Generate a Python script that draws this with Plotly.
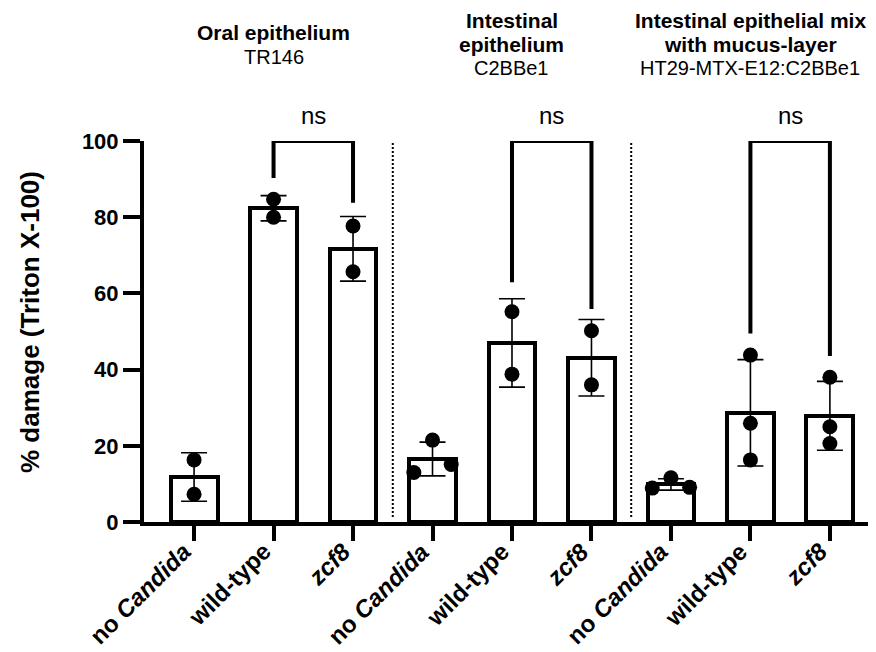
import numpy as np
import plotly.graph_objects as go

# ---------------- data ----------------
categories = ["no <i>Candida</i>", "wild-type", "<i>zcf8</i>",
              "no <i>Candida</i>", "wild-type", "<i>zcf8</i>",
              "no <i>Candida</i>", "wild-type", "<i>zcf8</i>"]

oral_points = [[16.3, 7.3], [84.7, 80.0], [77.7, 65.7]]
intestinal_points = [[21.5, 13.0, 15.1], [55.2, 38.8], [50.2, 36.0]]
mix_points = [[11.6, 8.9, 9.1], [43.8, 25.9, 16.3], [38.0, 25.0, 20.6]]

group_titles_bold = [["Oral epithelium"],
                     ["Intestinal", "epithelium"],
                     ["Intestinal epithelial mix", "with mucus-layer"]]
group_cells = ["TR146", "C2BBe1", "HT29-MTX-E12:C2BBe1"]

bracket_label = "ns"
bracket_top = 100
bracket_left_end = [90.3, 62.9, 49.5]
bracket_right_end = [83.8, 55.9, 43.6]

y_ticks = [0, 20, 40, 60, 80, 100]
y_title = "% damage (Triton X-100)"

# ---------------- derived ----------------
all_points = oral_points + intestinal_points + mix_points
means = [float(np.mean(p)) for p in all_points]
sds = [float(np.std(p, ddof=1)) for p in all_points]
xs = list(range(len(all_points)))

FONT = "Arial, Liberation Sans, sans-serif"
OFF = 8  # page body margin
W, H = 876 - OFF, 652 - OFF
ML, MR, MT, MB = 144 - OFF, 0, 141 - OFF, 130
X0, X1 = -0.63, 8.58
plot_h = H - MT - MB
plot_w = W - ML - MR


def spread(values, thresh=3.5, d=0.235):
    order = np.argsort(values)
    offs = [0.0] * len(values)
    clusters, cur = [], [order[0]]
    for a, b in zip(order[:-1], order[1:]):
        if values[b] - values[a] < thresh:
            cur.append(b)
        else:
            clusters.append(cur)
            cur = [b]
    clusters.append(cur)
    pattern = {1: [0.0], 2: [-d, d], 3: [-d, d, 0.0]}
    for c in clusters:
        for idx, o in zip(c, pattern.get(len(c), [0.0] * len(c))):
            offs[idx] = o
    return offs


def paper_y(ref_px):
    return (H - MB - (ref_px - OFF)) / plot_h


def paper_x(ref_px):
    return ((ref_px - OFF) - ML) / plot_w


fig = go.Figure()

fig.add_trace(go.Bar(
    x=xs, y=means, width=0.59,
    marker=dict(color="white", line=dict(color="black", width=4)),
    error_y=dict(type="data", array=sds, visible=True, color="black",
                 thickness=1.6, width=13),
    showlegend=False, hoverinfo="skip"))

px_, py_ = [], []
for i, vals in enumerate(all_points):
    offs = spread(vals)
    for v, o in zip(vals, offs):
        px_.append(i + o)
        py_.append(v)
fig.add_trace(go.Scatter(x=px_, y=py_, mode="markers",
                         marker=dict(color="black", size=15),
                         showlegend=False, hoverinfo="skip", cliponaxis=False))

# separators
for xsep in [2.5, 5.5]:
    fig.add_shape(type="line", x0=xsep, x1=xsep, y0=1.3, y1=100,
                  xref="x", yref="y",
                  line=dict(color="black", width=2, dash="2px,2px"))

# brackets
for g in range(3):
    a, b = 3 * g + 1, 3 * g + 2
    fig.add_shape(type="path",
                  path=f"M {a},{bracket_left_end[g]} L {a},{bracket_top} L {b},{bracket_top} L {b},{bracket_right_end[g]}",
                  xref="x", yref="y",
                  line=dict(color="black", width=4))
    fig.add_annotation(x=(a + b) / 2, y=bracket_top, xref="x", yref="y",
                       text=bracket_label, showarrow=False, yanchor="bottom",
                       yshift=10, font=dict(size=24, color="black", family=FONT))

# group titles
pitch = 24
center_px = 44.5
for g in range(3):
    lines = [(t, True) for t in group_titles_bold[g]] + [(group_cells[g], False)]
    n = len(lines)
    for k, (ln, bold) in enumerate(lines):
        ypx = center_px + (k - (n - 1) / 2) * pitch
        fig.add_annotation(x=3 * g + 1, xref="x",
                           y=paper_y(ypx), yref="paper",
                           text=f"<b>{ln}</b>" if bold else ln,
                           showarrow=False, yanchor="middle", xanchor="center",
                           font=dict(size=21 if bold else 20, color="black",
                                     family=FONT))

# x category labels (rotated)
for i, lab in enumerate(categories):
    fig.add_annotation(x=i, y=0, xref="x", yref="y", text=f"<b>{lab}</b>",
                       textangle=-45, showarrow=False,
                       xanchor="right", yanchor="top", xshift=5, yshift=-13,
                       font=dict(size=24, color="black", family=FONT))

# y title
fig.add_annotation(x=paper_x(30), xref="paper", y=paper_y(322), yref="paper",
                   text=f"<b>{y_title}</b>", textangle=-90, showarrow=False,
                   xanchor="center", yanchor="middle",
                   font=dict(size=26, color="black", family=FONT))

fig.update_layout(
    width=W, height=H,
    margin=dict(l=ML, r=MR, t=MT, b=MB, autoexpand=False),
    plot_bgcolor="white", paper_bgcolor="white",
    bargap=0, showlegend=False,
    font=dict(family=FONT, color="black"),
)
fig.update_xaxes(
    range=[X0, X1], tickvals=xs, showticklabels=False,
    showline=True, linecolor="black", linewidth=4,
    ticks="outside", ticklen=15, tickwidth=4, tickcolor="black",
    showgrid=False, zeroline=False, automargin=False)
fig.update_yaxes(
    range=[0, 100], tickvals=y_ticks,
    showline=True, linecolor="black", linewidth=4,
    ticks="outside", ticklen=17, tickwidth=4, tickcolor="black",
    tickfont=dict(size=22, weight="bold", family=FONT, color="black"),
    showgrid=False, zeroline=False, automargin=False)

fig.write_html("out.html")
